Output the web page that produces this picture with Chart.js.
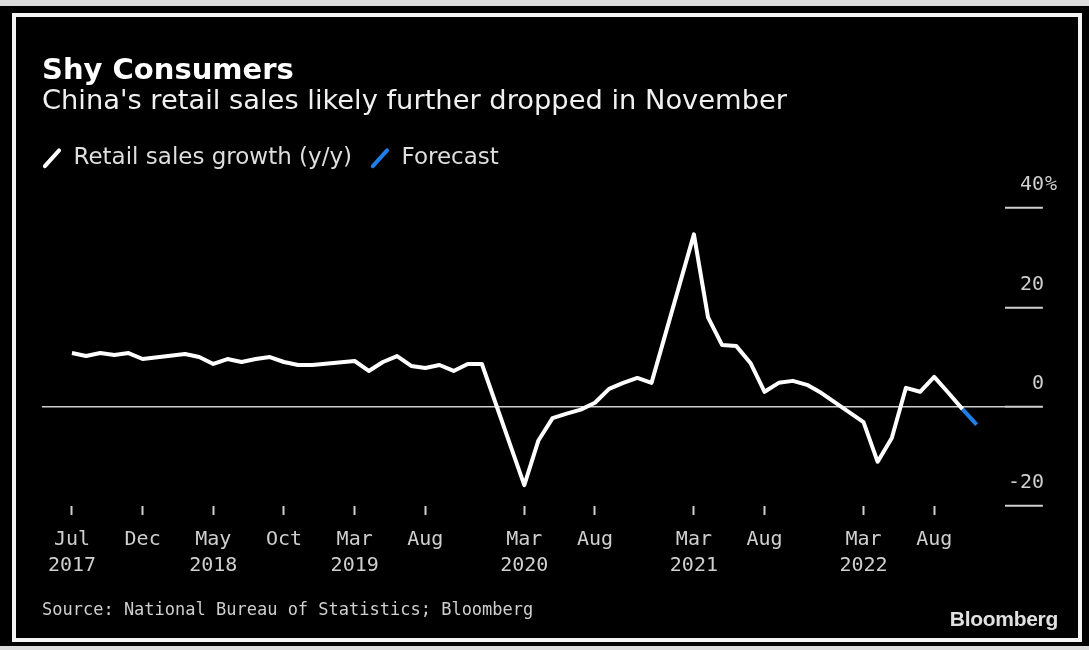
<!DOCTYPE html>
<html>
<head>
<meta charset="utf-8">
<script src="https://cdn.jsdelivr.net/npm/chart.js@4.4.1/dist/chart.umd.min.js"></script>
<style>
    html, body { margin: 0; padding: 0; background: #dcdcdc; }
    #page { position: relative; width: 1089px; height: 650px; overflow: hidden; background: #dcdcdc; }
    #panel { position: absolute; left: 0; top: 6px; width: 1089px; height: 640px; background: #000; }
    #frame { position: absolute; left: 12px; top: 13px; width: 1070px; height: 629px;
             border: 4px solid #f4f4f4; box-sizing: border-box; }
    #chart_canvas { position: absolute; left: 0; top: 0; }
    .note { position: absolute; color: #cfcfcf; white-space: nowrap; }
    #source { left: 42px; top: 599px; font: 17px "DejaVu Sans Mono", monospace; }
    #logo { right: 31px; top: 607px; font: bold 21px "Liberation Sans", Arial, sans-serif; color: #e0e0e0; letter-spacing: -0.3px; }
</style>
</head>
<body>
<div id="page">
    <div id="panel"></div>
    <div id="frame"></div>
    <canvas id="chart_canvas" width="1089" height="650"></canvas>
    <div class="note" id="source">Source: National Bureau of Statistics; Bloomberg</div>
    <div class="note" id="logo">Bloomberg</div>
</div>
<script>
/* China retail sales growth, y/y %, by calendar month (Jan..Dec).
   Jan and Feb are only reported combined, so they are left empty. */
const sales2017 = [null, null, null, null, null, null, 10.8, 10.2, 10.8, 10.4, 10.8, 9.6];
const sales2018 = [null, null, 10.6, 10.0, 8.6, 9.6, 9.0, 9.6, 10.0, 9.0, 8.4, 8.4];
const sales2019 = [null, null, 9.2, 7.2, 9.0, 10.2, 8.2, 7.8, 8.4, 7.2, 8.6, 8.6];
const sales2020 = [null, null, -15.8, -6.8, -2.3, -1.4, -0.6, 0.8, 3.6, 4.8, 5.8, 4.8];
const sales2021 = [null, null, 34.7, 18.0, 12.4, 12.2, 8.8, 3.0, 4.8, 5.2, 4.4, 2.8];
const sales2022 = [null, null, -3.1, -11.1, -6.3, 3.8, 3.0, 6.0, 2.8, -0.5, null, null];
const salesYears = [2017, 2018, 2019, 2020, 2021, 2022];

const forecastMonths = ['2022-10', '2022-11'];
const forecastValues = [-0.5, -3.6];

const tickMonths = ['2017-07', '2017-12', '2018-05', '2018-10', '2019-03', '2019-08',
                    '2020-03', '2020-08', '2021-03', '2021-08', '2022-03', '2022-08'];
const monthNames = ['Jan', 'Feb', 'Mar', 'Apr', 'May', 'Jun', 'Jul', 'Aug', 'Sep', 'Oct', 'Nov', 'Dec'];
const yTicks = [-20, 0, 20, 40];

const axisColour = '#cfcfcf';
const forecastColour = '#1f7fe8';

// months counted from Jul 2017
function month_index ( year, month )
{
    return (year - 2017) * 12 + (month - 7);
}

function parse_month ( s )
{
    const [y, m] = s.split('-').map(Number);
    return { year: y, month: m };
}

const actualPoints = [];
[sales2017, sales2018, sales2019, sales2020, sales2021, sales2022].forEach( (values, k) =>
{
    values.forEach( (v, m) =>
    {
        if ( v !== null ) actualPoints.push( { x: month_index(salesYears[k], m + 1), y: v } );
    });
});

const forecastPoints = forecastMonths.map( (s, i) =>
{
    const d = parse_month(s);
    return { x: month_index(d.year, d.month), y: forecastValues[i] };
});

const tickLabels = {};
tickMonths.forEach( (s, i) =>
{
    const d = parse_month(s);
    const prev = i > 0 ? parse_month(tickMonths[i - 1]) : null;
    const showYear = !prev || prev.year !== d.year;
    tickLabels[month_index(d.year, d.month)] = [ monthNames[d.month - 1], showYear ? String(d.year) : '' ];
});

// legend starts a little left of the plot edge so the first slash lines up with the title
const nudgeLegend =
{
    id: 'nudgeLegend',
    afterLayout: function ( chart )
    {
        chart.legend.left -= 18;
        chart.legend.right -= 18;
    }
};

// the top y label carries the unit
const percentSign =
{
    id: 'percentSign',
    afterDraw: function ( chart )
    {
        const s = chart.scales.y;
        const items = s.getLabelItems();
        const top = items[items.length - 1];
        const c = chart.ctx;
        c.save();
        c.font = '20px "DejaVu Sans Mono"';
        c.fillStyle = axisColour;
        c.textAlign = 'left';
        c.textBaseline = 'middle';
        c.fillText('%', top.options.translation[0] + 1, top.options.translation[1]);
        c.restore();
    }
};

const data =
{
    datasets: [
        {
            label: 'Retail sales growth (y/y)',
            data: actualPoints,
            borderColor: '#ffffff',
            borderWidth: 4,
            borderJoinStyle: 'round',
            pointRadius: 0,
            tension: 0,
        },
        {
            label: 'Forecast',
            data: forecastPoints,
            borderColor: forecastColour,
            borderWidth: 4,
            borderCapStyle: 'butt',
            pointRadius: 0,
            tension: 0,
        }
    ]
};

const options =
{
    responsive: false,
    animation: false,
    layout: { padding: { left: 42, right: 45, top: 57, bottom: 59 } },
    plugins:
    {
        title:
        {
            display: true,
            text: 'Shy Consumers',
            align: 'start',
            color: '#ffffff',
            font: { family: 'DejaVu Sans', size: 29, weight: 'bold', lineHeight: 1.0 },
            padding: { top: 0, bottom: 0 }
        },
        subtitle:
        {
            display: true,
            text: "China's retail sales likely further dropped in November",
            align: 'start',
            color: '#f0f0f0',
            font: { family: 'DejaVu Sans', size: 27.3, lineHeight: 1.2 },
            padding: { top: 0, bottom: 10 }
        },
        legend:
        {
            display: true,
            align: 'start',
            labels:
            {
                usePointStyle: true,
                boxWidth: 20,
                boxHeight: 15,
                padding: 18,
                color: '#dedede',
                font: { family: 'DejaVu Sans', size: 23 },
                generateLabels: function ( chart )
                {
                    return chart.data.datasets.map( (ds, i) => ({
                        text: ds.label,
                        fillStyle: ds.borderColor,
                        strokeStyle: ds.borderColor,
                        fontColor: '#dedede',
                        lineWidth: 4,
                        lineCap: 'round',
                        pointStyle: 'line',
                        rotation: -48,
                        hidden: false,
                        datasetIndex: i
                    }));
                }
            }
        },
        tooltip: { enabled: false }
    },
    scales:
    {
        x:
        {
            type: 'linear',
            min: -2.12,
            max: 66,
            afterBuildTicks: function ( scale )
            {
                scale.ticks = Object.keys(tickLabels).map( v => ({ value: Number(v) }) );
            },
            ticks:
            {
                autoSkip: false,
                maxRotation: 0,
                padding: 12,
                color: axisColour,
                font: { family: 'DejaVu Sans Mono', size: 20, lineHeight: 1.3 },
                callback: function ( value ) { return tickLabels[value] || ''; }
            },
            grid: { drawOnChartArea: false, tickLength: 9, tickColor: axisColour, tickWidth: 2 },
            border: { display: false }
        },
        y:
        {
            position: 'right',
            min: -20,
            max: 45.7,
            afterBuildTicks: function ( scale )
            {
                scale.ticks = yTicks.map( v => ({ value: v }) );
            },
            ticks:
            {
                crossAlign: 'far',
                padding: -17.5,
                labelOffset: -23,
                color: axisColour,
                font: { family: 'DejaVu Sans Mono', size: 20 },
                callback: function ( value ) { return String(value); }
            },
            grid:
            {
                color: function ( ctx ) { return ctx.tick && ctx.tick.value === 0 ? axisColour : 'rgba(0,0,0,0)'; },
                lineWidth: 1.5,
                tickColor: axisColour,
                tickWidth: 2,
                tickLength: 38
            },
            border: { display: false }
        }
    }
};

const chart = new Chart( document.getElementById('chart_canvas'),
    { type: 'line', data: data, options: options, plugins: [ nudgeLegend, percentSign ] } );
</script>
</body>
</html>
